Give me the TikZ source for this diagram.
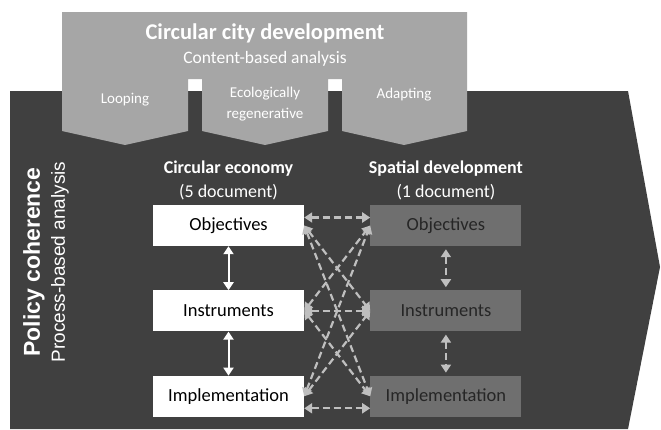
\documentclass[tikz,border=0pt]{standalone}
\usepackage{fontspec}
\setmainfont{Carlito}
\newfontfamily\arialfont{Liberation Sans}
\usetikzlibrary{positioning, arrows.meta}
\definecolor{BgDark} {HTML}{404040}
\definecolor{BgTop}  {HTML}{A6A6A6}
\definecolor{BoxGray}{HTML}{6F6F6F}
\definecolor{ArrGray}{HTML}{BFBFBF}

\begin{document}
\begin{tikzpicture}[x=1pt, y=-1pt, node distance=44pt and 66pt,
    ceBox/.style={fill=white, minimum width=151pt, minimum height=41pt,
                  inner sep=0pt, font=\fontsize{18.5}{21}\selectfont},
    sdBox/.style={ceBox, fill=BoxGray, text=black!85},
    ceArrow/.style={white, line width=2pt,
                    {Triangle[length=8pt,width=10pt]}-{Triangle[length=8pt,width=10pt]}},
    sdArrow/.style={ArrGray, line width=2.2pt, dash pattern=on 7pt off 4pt,
                    {Triangle[length=8pt,width=10pt]}-{Triangle[length=8pt,width=10pt]}}]
      \useasboundingbox (0,0) rectangle (661,429);
      \fill[white] (0,0) rectangle (661,429);
      % Dark arrow of the process analysis
      \fill[BgDark] (10,91) -- (628,91) -- (660,267) -- (628,429) -- (10,429) -- cycle;
      % Header with three chevrons
      \fill[BgTop] (62,12) -- (467,12) -- (467,131) -- (404,145) -- (342,131)
        -- (342,79) -- (328,79) -- (328,131) -- (265,145) -- (202,131)
        -- (202,79) -- (188,79) -- (188,131) -- (125,145) -- (62,131) -- cycle;
      \node[text=white, font=\fontsize{22.5}{26}\selectfont\bfseries] (title) at (265,33)
        {Circular city development};
      \node[text=white, font=\fontsize{17.5}{20}\selectfont] (content) at (265,59)
        {Content-based analysis};
      \node[text=white, font=\fontsize{15}{21}\selectfont] (loop) at (125,100) {Looping};
      \node[text=white, font=\fontsize{15}{21}\selectfont, align=center] (eco) at (265,104)
        {Ecologically\\regenerative};
      \node[text=white, font=\fontsize{15}{21}\selectfont] (adapt) at (404,95) {Adapting};
      % Side label
      \node[text=white, rotate=90, font=\arialfont\fontsize{23}{26}\selectfont\bfseries]
        (policy) at (34,262) {Policy coherence};
      \node[text=white, rotate=90, font=\arialfont\fontsize{19}{22}\selectfont]
        (process) at (60,262) {Process-based analysis};
      % Circular economy column
      \node[ceBox] (c1) at (228.5,225.5) {Objectives};
      \node[ceBox, below=of c1] (c2) {Instruments};
      \node[ceBox, below=of c2] (c3) {Implementation};
      % Spatial development column
      \node[sdBox, right=of c1] (s1) {Objectives};
      \node[sdBox, right=of c2] (s2) {Instruments};
      \node[sdBox, right=of c3] (s3) {Implementation};
      \node[text=white, align=center, inner sep=0pt, above=5pt of c1,
            font=\fontsize{18}{24}\selectfont] (ceHead)
        {\textbf{Circular economy}\\(5 document)};
      \node[text=white, align=center, inner sep=0pt, above=5pt of s1,
            font=\fontsize{18}{24}\selectfont] (sdHead)
        {\textbf{Spatial development}\\(1 document)};
      % Links
      \draw[ceArrow] (c1) -- (c2);
      \draw[ceArrow] (c2) -- (c3);
      \draw[sdArrow, shorten <=3pt, shorten >=3pt] (s1) -- (s2);
      \draw[sdArrow, shorten <=3pt, shorten >=3pt] (s2) -- (s3);
      \draw[sdArrow] ([yshift=8pt]c1.east) -- ([yshift=8pt]s1.west);
      \draw[sdArrow] (c2.east) -- (s2.west);
      \draw[sdArrow] ([yshift=-12pt]c3.east) -- ([yshift=-12pt]s3.west);
      \draw[sdArrow] (c1.east) -- (s2.west);
      \draw[sdArrow] (c1.east) -- (s3.west);
      \draw[sdArrow] (c2.east) -- (s1.west);
      \draw[sdArrow] (c2.east) -- (s3.west);
      \draw[sdArrow] (c3.east) -- (s1.west);
      \draw[sdArrow] (c3.east) -- (s2.west);
    \end{tikzpicture}
\end{document}
